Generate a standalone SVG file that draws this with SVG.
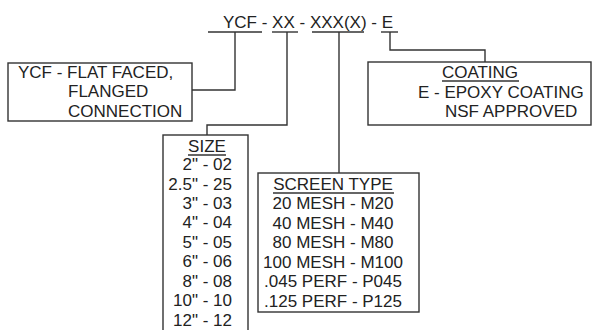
<svg xmlns="http://www.w3.org/2000/svg" width="593" height="330" viewBox="0 0 593 330">
<style>
text{font-family:"Liberation Sans",Arial,sans-serif;font-size:17px;fill:#222}
.box{fill:none;stroke:#333;stroke-width:1.4}
.ln{fill:none;stroke:#333;stroke-width:1.4}
.c{text-anchor:middle}
.r{text-anchor:end}
</style>
<rect width="593" height="330" fill="#fff"/>
<g id="title">
<text x="223" y="28">YCF - XX - XXX(X) - E</text>
<line class="ln" x1="208" y1="32" x2="262" y2="32"/>
<line class="ln" x1="272" y1="32" x2="298" y2="32"/>
<line class="ln" x1="312" y1="32" x2="364" y2="32"/>
<line class="ln" x1="381" y1="32" x2="398" y2="32"/>
</g>
<g id="connectors">
<polyline class="ln" points="235,32 235,90 192,90"/>
<polyline class="ln" points="287,32 287,125 207,125 207,135"/>
<polyline class="ln" points="339,32 339,173"/>
<polyline class="ln" points="390,32 390,50 485,50 485,62"/>
</g>
<g id="ycf">
<rect class="box" x="8" y="63" width="184" height="58"/>
<text x="18" y="78">YCF - FLAT FACED,</text>
<text x="68" y="97">FLANGED</text>
<text x="68" y="117">CONNECTION</text>
</g>
<g id="size">
<rect class="box" x="163" y="135" width="85" height="210"/>
<text class="c" x="207" y="152">SIZE</text>
<line class="ln" x1="188" y1="155" x2="226" y2="155"/>
<text class="r" x="232" y="170">2" - 02</text>
<text class="r" x="232" y="190">2.5" - 25</text>
<text class="r" x="232" y="209">3" - 03</text>
<text class="r" x="232" y="228">4" - 04</text>
<text class="r" x="232" y="248">5" - 05</text>
<text class="r" x="232" y="267">6" - 06</text>
<text class="r" x="232" y="287">8" - 08</text>
<text class="r" x="232" y="306">10" - 10</text>
<text class="r" x="232" y="326">12" - 12</text>
</g>
<g id="screen">
<rect class="box" x="258" y="173" width="161" height="139"/>
<text class="c" x="333" y="190">SCREEN TYPE</text>
<line class="ln" x1="273" y1="193" x2="394" y2="193"/>
<text class="c" x="333" y="209">20 MESH - M20</text>
<text class="c" x="333" y="229">40 MESH - M40</text>
<text class="c" x="333" y="248">80 MESH - M80</text>
<text class="c" x="333" y="268">100 MESH - M100</text>
<text class="c" x="333" y="287">.045 PERF - P045</text>
<text class="c" x="333" y="307">.125 PERF - P125</text>
</g>
<g id="coating">
<rect class="box" x="368" y="62" width="223" height="63"/>
<text class="c" x="480" y="78">COATING</text>
<line class="ln" x1="442" y1="81" x2="519" y2="81"/>
<text x="418" y="98">E - EPOXY COATING</text>
<text x="445" y="117">NSF APPROVED</text>
</g>
</svg>
